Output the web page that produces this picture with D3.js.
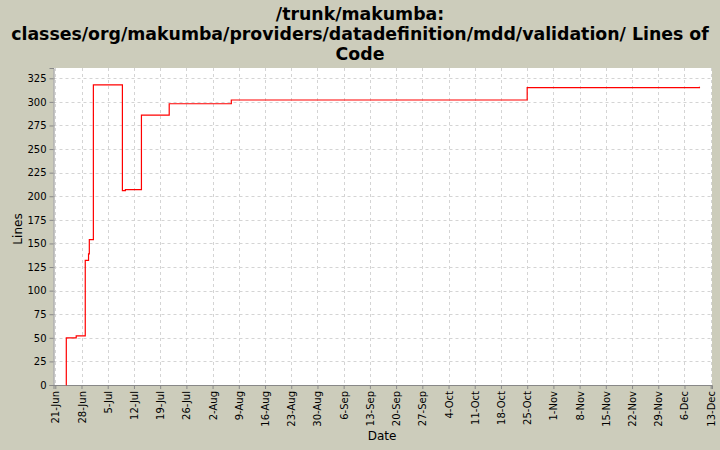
<!DOCTYPE html>
<html><head><meta charset="utf-8">
<script src="https://cdn.jsdelivr.net/npm/d3@7"></script>
<style>body{margin:0;background:#ccccbb;} svg{display:block;}</style>
</head><body>
<svg id="c" width="720" height="450"></svg>
<script>
const titleLines = ["/trunk/makumba:", "classes/org/makumba/providers/datadefinition/mdd/validation/ Lines of", "Code"];
const dates = ["2009-06-23T22:00","2009-06-23T22:30","2009-06-26T14:00","2009-06-29T00:00","2009-06-29T21:00","2009-06-30T02:00","2009-07-01T04:00","2009-07-08T22:00","2009-07-09T17:00","2009-07-14T00:00","2009-07-21T10:00","2009-08-07T00:00","2009-10-25T00:00","2009-12-10T00:00"];
const lines = [0,50,52,132,139,154,318,206,207,286,298,302,315,316];
const xTickLabels = ["21-Jun","28-Jun","5-Jul","12-Jul","19-Jul","26-Jul","2-Aug","9-Aug","16-Aug","23-Aug","30-Aug","6-Sep","13-Sep","20-Sep","27-Sep","4-Oct","11-Oct","18-Oct","25-Oct","1-Nov","8-Nov","15-Nov","22-Nov","29-Nov","6-Dec","13-Dec"];
const yTicks = [0,25,50,75,100,125,150,175,200,225,250,275,300,325];

const svg = d3.select("#c");
const font = "'DejaVu Sans', sans-serif";
const L = 53.5, R = 712, T = 68, B = 385;
const parse = d3.timeParse("%Y-%m-%dT%H:%M");
const data = dates.map((d,i)=>({t:parse(d), v:lines[i]}));
const t0 = new Date(2009,5,21), t1 = new Date(2009,11,13);
const day = 864e5;
const x = d3.scaleTime().domain([new Date(+t0 - 0.48*day), new Date(+t1 + 0.35*day)]).range([L,R]);
const y = d3.scaleLinear().domain([0,335.9]).range([B,T]);
const tickDates = xTickLabels.map((s,i)=>new Date(+t0 + i*7*day));

// title
const tg = svg.append("g");
titleLines.forEach((s,i)=>{
  tg.append("text").attr("x",360).attr("y",19.5+i*20).attr("text-anchor","middle")
    .attr("font-family",font).attr("font-weight","bold").attr("font-size",18).attr("fill","#000").text(s);
});
// fit widest line to 698px
const w = tg.selectAll("text").nodes()[1].getComputedTextLength();
const fs = 18*698/w;
tg.selectAll("text").attr("font-size",fs);

// plot bg
svg.append("rect").attr("x",L).attr("y",T).attr("width",R-L).attr("height",B-T).attr("fill","#fff");

// grid
const grid = svg.append("g").attr("stroke","#d4d4d4").attr("stroke-width",1).attr("stroke-dasharray","3,3");
tickDates.forEach(d=>{ const xx=Math.round(x(d))+0.5; grid.append("line").attr("x1",xx).attr("x2",xx).attr("y1",T).attr("y2",B); });
yTicks.forEach(v=>{ const yy=Math.round(y(v))+0.5; grid.append("line").attr("x1",L).attr("x2",R).attr("y1",yy).attr("y2",yy); });

// axes
const ya = svg.append("g").attr("transform",`translate(${L},0)`)
  .call(d3.axisLeft(y).tickValues(yTicks).tickSize(4).tickPadding(3).tickFormat(d3.format("d")));
const xa = svg.append("g").attr("transform",`translate(0,${B})`)
  .call(d3.axisBottom(x).tickValues(tickDates).tickSize(4).tickFormat((d,i)=>xTickLabels[i]));
[ya,xa].forEach(a=>{
  a.select(".domain").attr("stroke","#888");
  a.selectAll(".tick line").attr("stroke","#888");
  a.selectAll("text").attr("font-family",font).attr("font-size",10).attr("fill","#000");
});
xa.selectAll(".tick text").attr("transform","rotate(-90)").attr("text-anchor","end")
  .attr("x",-6).attr("y",0).attr("dy","0.35em");

// axis titles
svg.append("text").attr("x",382).attr("y",440).attr("text-anchor","middle").attr("font-family",font).attr("font-size",12).text("Date");
svg.append("text").attr("transform","translate(22,229) rotate(-90)").attr("text-anchor","middle").attr("font-family",font).attr("font-size",12).text("Lines");

// line
const line = d3.line().x(d=>x(d.t)).y(d=>y(d.v)).curve(d3.curveStepAfter);
svg.append("path").datum(data).attr("d",line).attr("fill","none").attr("stroke","#ff0000").attr("stroke-width",1.2);
</script>
</body></html>
